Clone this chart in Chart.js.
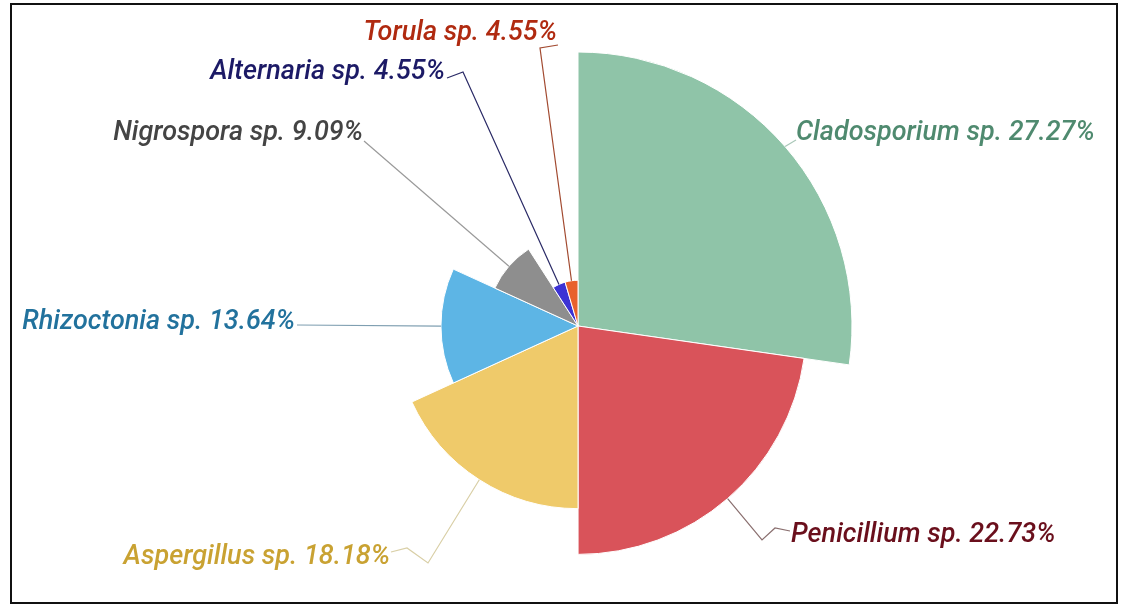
<!DOCTYPE html>
<html>
<head>
<meta charset="utf-8">
<script src="https://cdn.jsdelivr.net/npm/chart.js@4.4.1/dist/chart.umd.min.js"></script>
<style>
  html, body { margin: 0; padding: 0; background: #fff; }
  #wrap { position: relative; width: 1128px; height: 607px; }
  #frame { position: absolute; left: 10px; top: 3px; width: 1104px; height: 597px; border: 2px solid #111; pointer-events: none; }
  canvas { position: absolute; left: 0; top: 0; }
</style>
</head>
<body>
<div id="wrap">
  <canvas id="c" width="1128" height="607"></canvas>
  <div id="frame"></div>
</div>
<script>
// ---- data ----
const categories = ['Cladosporium sp.', 'Penicillium sp.', 'Aspergillus sp.', 'Rhizoctonia sp.', 'Nigrospora sp.', 'Alternaria sp.', 'Torula sp.'];
const percentages = [27.27, 22.73, 18.18, 13.64, 9.09, 4.55, 4.55];
const percentLabels = ['27.27%', '22.73%', '18.18%', '13.64%', '9.09%', '4.55%', '4.55%'];

// ---- styles ----
const fillColors = ['#8fc4a8', '#d9535a', '#efca6a', '#5db5e5', '#8e8e8e', '#3c32d4', '#e8612c'];
const textColors = ['#4f8a6f', '#6a0f1c', '#c9a232', '#22729d', '#444444', '#1c1a66', '#b02a10'];
const lineColors = ['#a9c7b8', '#8a6f6f', '#d9cfa6', '#7f9fb1', '#9a9a9a', '#2a2a66', '#a24a30'];
// label layout: elbow points (canvas px), text anchor, alignment
const labelLayout = [
  { pts: [[796, 140]], tx: 796, ty: 133, align: 'left' },
  { pts: [[762, 540], [775, 528], [790, 531]], tx: 791, ty: 535, align: 'left' },
  { pts: [[428, 563], [407, 548], [391, 552]], tx: 390, ty: 557, align: 'right' },
  { pts: [[297, 325]], tx: 295, ty: 322, align: 'right' },
  { pts: [[364, 141]], tx: 363, ty: 133, align: 'right' },
  { pts: [[463, 72], [447, 78]], tx: 445, ty: 72, align: 'right' },
  { pts: [[540, 48], [558, 45]], tx: 557, ty: 33, align: 'right' }
];

const total = percentages.reduce((a, b) => a + b, 0);
const angles = percentages.map(v => v / total * 360);

const leaderPlugin = {
  id: 'leaders',
  afterDatasetsDraw(chart) {
    const ctx = chart.ctx;
    const meta = chart.getDatasetMeta(0);
    meta.data.forEach((arc, i) => {
      const p = arc.getProps(['x', 'y', 'startAngle', 'endAngle', 'outerRadius'], true);
      const mid = (p.startAngle + p.endAngle) / 2;
      const sx = p.x + Math.cos(mid) * p.outerRadius;
      const sy = p.y + Math.sin(mid) * p.outerRadius;
      const L = labelLayout[i];
      ctx.save();
      ctx.strokeStyle = lineColors[i];
      ctx.lineWidth = 1.2;
      ctx.beginPath();
      ctx.moveTo(sx, sy);
      L.pts.forEach(q => ctx.lineTo(q[0], q[1]));
      ctx.stroke();
      ctx.font = 'italic 500 27px Roboto';
      ctx.fillStyle = textColors[i];
      ctx.textAlign = L.align;
      ctx.textBaseline = 'middle';
      ctx.fillText(categories[i] + ' ' + percentLabels[i], L.tx, L.ty);
      ctx.restore();
    });
  }
};

new Chart(document.getElementById('c'), {
  type: 'polarArea',
  data: {
    labels: categories,
    datasets: [{
      data: percentages,
      angle: angles,
      backgroundColor: fillColors,
      borderColor: '#ffffff',
      borderWidth: 1
    }]
  },
  options: {
    responsive: false,
    animation: false,
    layout: { padding: { top: 52, bottom: 7, left: 28, right: 0 } },
    plugins: { legend: { display: false }, tooltip: { enabled: false } },
    scales: {
      r: {
        display: false,
        min: 0,
        max: Math.max(...percentages),
        startAngle: 0
      }
    }
  },
  plugins: [leaderPlugin]
});
</script>
</body>
</html>
